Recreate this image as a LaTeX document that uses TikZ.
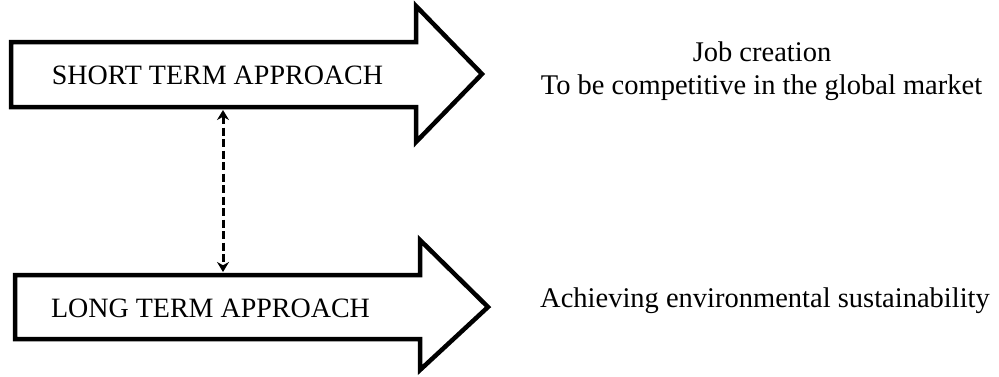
\documentclass[tikz,border=0pt]{standalone}
\usepackage{fontspec}
\setmainfont{Liberation Serif}
\usetikzlibrary{arrows.meta}
\begin{document}
\begin{tikzpicture}[x=1pt,y=-1pt,
  blockarrow/.style={draw=black,line width=4.5pt,fill=white,line join=miter},
  lefttext/.style={font=\fontsize{28}{32}\selectfont,inner sep=0pt,anchor=base},
  righttext/.style={font=\fontsize{28.5}{32}\selectfont,inner sep=0pt,anchor=base},
  link/.style={line width=3pt,dash pattern=on 8pt off 3.5pt,{Stealth[length=10pt,width=12pt]}-{Stealth[length=10pt,width=12pt]}}]
\useasboundingbox (0,0) rectangle (999,376);
% top block arrow
\draw[blockarrow] (11,42) -- (416,42) -- (416,6) -- (482,74) -- (416,142) -- (416,107) -- (11,107) -- cycle;
% bottom block arrow
\draw[blockarrow] (15,275) -- (420,275) -- (420,240) -- (488,307) -- (420,370) -- (420,339) -- (15,339) -- cycle;
\node[lefttext] (short) at (217.5,84) {SHORT TERM APPROACH};
\node[lefttext] (long) at (210.5,317) {LONG TERM APPROACH};
\node[righttext] (job) at (762,61) {Job creation};
\node[righttext] (comp) at (761.5,94) {To be competitive in the global market};
\node[righttext] (env) at (765,307) {Achieving environmental sustainability};
\coordinate (topedge) at (223,110);
\coordinate (botedge) at (223,272);
\draw[link] (topedge) -- (botedge);
\end{tikzpicture}
\end{document}
